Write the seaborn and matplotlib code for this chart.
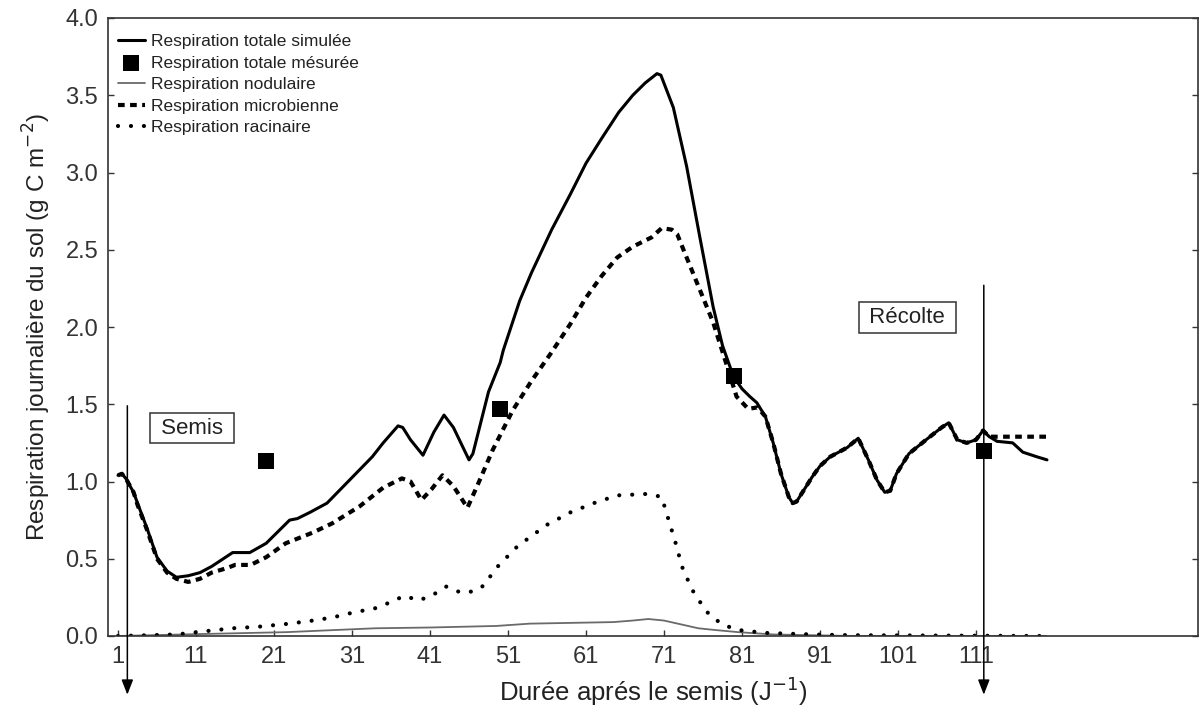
import matplotlib
matplotlib.use("Agg")
import matplotlib.pyplot as plt
import seaborn as sns
import pandas as pd

# ---------------- data ----------------
total_x = [1, 1.5, 2, 3, 3.5, 4.7, 6, 7.3, 8.5, 10, 11.5, 13, 14.5, 15.7, 17.9, 20, 22, 23, 24,
           25.6, 27.8, 30.7, 33.6, 35, 36.9, 37.5, 38.5, 40.1, 41.5, 42.8, 44, 46, 46.5, 47.8,
           48.5, 50, 50.4, 52.5, 54, 56.6, 59, 61, 63, 65.2, 67, 68.6, 70.1, 70.6, 72.2, 73.9,
           75.6, 77.3, 78.5, 79.9, 81, 82, 82.9, 84, 85, 86, 87, 87.5, 88, 89, 90, 91, 92.3,
           94.5, 95.9, 97.2, 98.3, 99.3, 100, 100.8, 102.4, 104.6, 106.6, 107.5, 108, 108.6,
           109.8, 111, 111.9, 112.7, 113.7, 115.7, 117, 118.8, 120.1]
total_y = [1.04, 1.05, 1.02, 0.93, 0.86, 0.70, 0.51, 0.42, 0.38, 0.39, 0.41, 0.45, 0.50, 0.54,
           0.54, 0.60, 0.70, 0.75, 0.76, 0.80, 0.86, 1.01, 1.16, 1.25, 1.36, 1.35, 1.27, 1.17,
           1.32, 1.43, 1.35, 1.14, 1.18, 1.44, 1.58, 1.77, 1.85, 2.17, 2.35, 2.63, 2.86, 3.06,
           3.22, 3.39, 3.50, 3.58, 3.64, 3.63, 3.42, 3.04, 2.58, 2.13, 1.88, 1.68, 1.60, 1.55,
           1.51, 1.42, 1.25, 1.05, 0.90, 0.86, 0.87, 0.95, 1.03, 1.10, 1.16, 1.22, 1.28, 1.14,
           1.01, 0.93, 0.94, 1.05, 1.18, 1.27, 1.35, 1.38, 1.33, 1.27, 1.25, 1.27, 1.33, 1.29,
           1.26, 1.25, 1.19, 1.16, 1.14]

mesure_x = [20, 50, 80, 112]
mesure_y = [1.13, 1.47, 1.68, 1.20]

nod_x = [1, 9.3, 22.6, 34, 41, 49.5, 53.8, 64.5, 67, 69, 71, 75.4, 77.3, 80.5, 85, 90, 95, 120]
nod_y = [0.0, 0.01, 0.025, 0.05, 0.055, 0.065, 0.08, 0.09, 0.10, 0.11, 0.10, 0.05, 0.04, 0.025,
         0.01, 0.005, 0.0, 0.0]

micro_x = [1, 1.5, 2, 3, 3.5, 4.7, 6, 7.3, 8.5, 10, 11.5, 13, 15, 16, 18, 20, 22.5, 26, 28.5, 32,
           35, 37.4, 38.5, 39.9, 41.2, 42.6, 44, 45.8, 47.3, 49, 51.6, 54, 56.5, 59, 61, 63, 65,
           67, 69.4, 70.7, 72, 72.7, 73.9, 75.6, 77.3, 79, 80.3, 81.8, 83, 84, 85, 86, 87, 87.5,
           88, 89, 90, 91, 92.3, 94.5, 95.9, 97.2, 98.3, 99.3, 100, 100.8, 102.4, 104.6, 106.6,
           107.5, 108, 108.6, 109.8, 111, 111.9, 112.7, 114, 116, 118, 120]
micro_y = [1.04, 1.05, 1.02, 0.93, 0.85, 0.69, 0.50, 0.41, 0.37, 0.35, 0.37, 0.41, 0.44, 0.46,
           0.46, 0.51, 0.60, 0.67, 0.73, 0.84, 0.96, 1.02, 1.00, 0.88, 0.95, 1.04, 0.97, 0.83,
           1.00, 1.20, 1.46, 1.65, 1.83, 2.02, 2.19, 2.33, 2.45, 2.52, 2.58, 2.64, 2.63, 2.60,
           2.45, 2.24, 2.03, 1.76, 1.55, 1.47, 1.48, 1.42, 1.25, 1.05, 0.90, 0.86, 0.87, 0.95,
           1.03, 1.10, 1.16, 1.22, 1.28, 1.14, 1.01, 0.93, 0.94, 1.05, 1.18, 1.27, 1.35, 1.38,
           1.33, 1.27, 1.25, 1.27, 1.33, 1.29, 1.29, 1.29, 1.29, 1.29]

root_x = [1, 5, 8.5, 12, 15.7, 19, 23, 26, 28.5, 31, 34, 36, 37.7, 39.6, 41.5, 43.1, 45, 46.7,
          48, 49.3, 52.2, 56, 59, 62, 65, 69, 70.7, 71.6, 72.5, 73.3, 74.6, 76.4, 78.3, 80.3,
          84, 90, 95, 120]
root_y = [0.0, 0.005, 0.01, 0.03, 0.05, 0.06, 0.08, 0.10, 0.12, 0.15, 0.18, 0.22, 0.26, 0.23,
          0.27, 0.32, 0.28, 0.29, 0.33, 0.43, 0.58, 0.72, 0.80, 0.86, 0.91, 0.92, 0.90, 0.75,
          0.60, 0.45, 0.30, 0.16, 0.08, 0.04, 0.02, 0.01, 0.005, 0.0]

xticks = [1, 11, 21, 31, 41, 51, 61, 71, 81, 91, 101, 111]
yticks = [0.0, 0.5, 1.0, 1.5, 2.0, 2.5, 3.0, 3.5, 4.0]

semis_x = 2.2
recolte_x = 112.0

# ---------------- style ----------------
sns.set_style("ticks")
plt.rcParams['font.family'] = ['Liberation Sans', 'DejaVu Sans']

fig = plt.figure(figsize=(12.02, 7.12), dpi=100)
ax = fig.add_axes([108 / 1202, 76 / 712, 1090 / 1202, 618 / 712])

df_tot = pd.DataFrame({"x": total_x, "y": total_y})
df_mes = pd.DataFrame({"x": mesure_x, "y": mesure_y})
df_nod = pd.DataFrame({"x": nod_x, "y": nod_y})
df_mic = pd.DataFrame({"x": micro_x, "y": micro_y})
df_root = pd.DataFrame({"x": root_x, "y": root_y})

sns.lineplot(data=df_nod, x="x", y="y", ax=ax, color="#6a6a6a", lw=1.3,
             estimator=None, label="Respiration nodulaire")
sns.lineplot(data=df_root, x="x", y="y", ax=ax, color="black", lw=3.0,
             linestyle=(0, (0.01, 3.1)), dash_capstyle="round",
             estimator=None, label="Respiration racinaire")
sns.lineplot(data=df_tot, x="x", y="y", ax=ax, color="black", lw=2.2,
             estimator=None, label="Respiration totale simulée")
sns.lineplot(data=df_mic, x="x", y="y", ax=ax, color="black", lw=3.0,
             linestyle=(0, (1.6, 1.3)), estimator=None,
             label="Respiration microbienne")
sns.scatterplot(data=df_mes, x="x", y="y", ax=ax, marker="s", s=140, color="black",
                edgecolor="black", linewidth=0, zorder=5, label="Respiration totale mésurée")

handles, labels = ax.get_legend_handles_labels()
order = ["Respiration totale simulée", "Respiration totale mésurée", "Respiration nodulaire",
         "Respiration microbienne", "Respiration racinaire"]
hmap = dict(zip(labels, handles))
ax.legend([hmap[k] for k in order], order, loc="upper left", bbox_to_anchor=(0.0, 0.989),
          frameon=False, fontsize=12.5, handlelength=1.6, handletextpad=0.3,
          labelspacing=0.36, borderaxespad=0.0, borderpad=0.55, labelcolor="#222222")

ax.set_xlim(-0.28, 139.46)
ax.set_ylim(0, 4.0)
ax.set_xticks(xticks)
ax.set_xticklabels([str(t) for t in xticks])
ax.set_yticks(yticks)
ax.set_yticklabels([f"{t:.1f}" for t in yticks])
ax.tick_params(axis="both", direction="in", length=4, width=1, labelsize=17,
               colors="#333333", pad=7)
ax.tick_params(axis="y", right=True)
for sp in ax.spines.values():
    sp.set_visible(True)
    sp.set_linewidth(1.2)
    sp.set_color("#333333")

ax.set_xlabel("Durée aprés le semis (J$^{-1}$)", fontsize=18.5, color="#222222", labelpad=5)
ax.set_ylabel("Respiration journalière du sol (g C m$^{-2}$)", fontsize=17.5, color="#222222",
              labelpad=9)

# arrows
ax.annotate("", xy=(semis_x, -0.38), xytext=(semis_x, 1.49),
            arrowprops=dict(arrowstyle="-|>,head_length=0.9,head_width=0.35", color="black",
                            lw=1.1, shrinkA=0, shrinkB=0), annotation_clip=False)
ax.annotate("", xy=(recolte_x, -0.38), xytext=(recolte_x, 2.27),
            arrowprops=dict(arrowstyle="-|>,head_length=0.9,head_width=0.35", color="black",
                            lw=1.1, shrinkA=0, shrinkB=0), annotation_clip=False)

ax.text(10.5, 1.346, " Semis ", fontsize=16, ha="center", va="center", color="#222222",
        bbox=dict(boxstyle="square,pad=0.22", fc="white", ec="#333333", lw=1.1))
ax.text(102.2, 2.06, " Récolte ", fontsize=16, ha="center", va="center", color="#222222",
        bbox=dict(boxstyle="square,pad=0.22", fc="white", ec="#333333", lw=1.1))

fig.savefig("out.png", dpi=100)
